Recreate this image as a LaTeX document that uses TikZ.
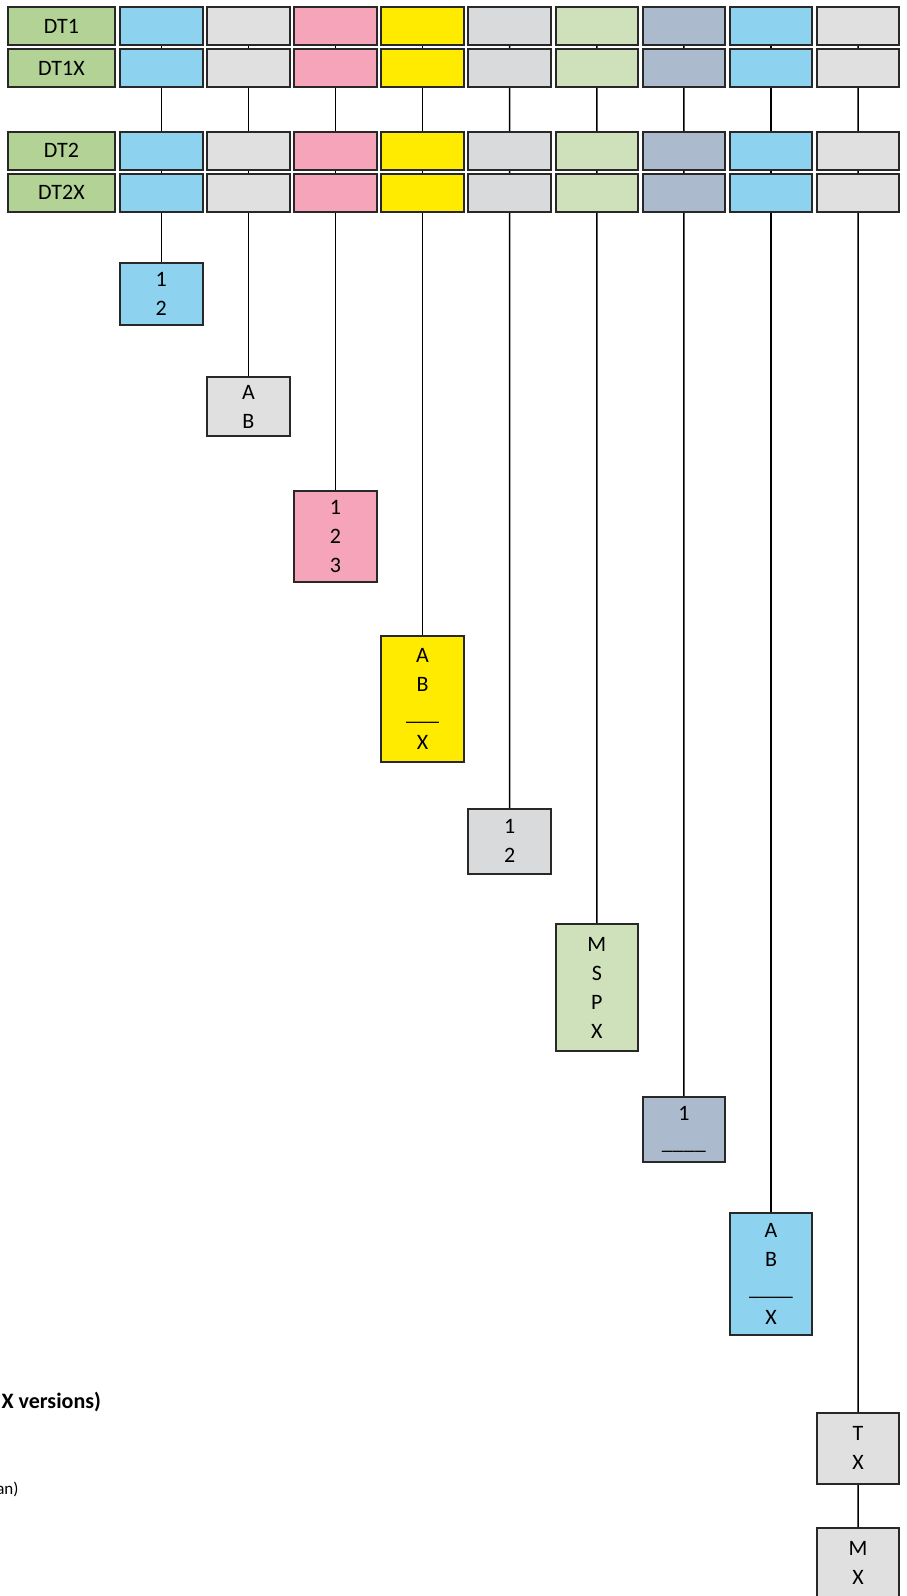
\documentclass[tikz,border=0pt]{standalone}
\usepackage{fontspec}
\setmainfont{Carlito}
\usepackage{xcolor}
\usepackage{tikz}
\usetikzlibrary{backgrounds}
\tikzset{every picture/.style={line width=0.75pt}}
\definecolor{edge}{RGB}{40,40,40}
\definecolor{lblgreen}{RGB}{179,211,150}
\definecolor{cblue}{RGB}{141,211,240}
\definecolor{cgray}{RGB}{224,224,224}
\definecolor{cgrayb}{RGB}{217,218,220}
\definecolor{cpink}{RGB}{245,164,186}
\definecolor{cyellow}{RGB}{255,235,0}
\definecolor{cgreen}{RGB}{206,225,187}
\definecolor{cslate}{RGB}{171,186,204}

\begin{document}
\begin{tikzpicture}[x=0.5pt,y=0.5pt,yscale=-1,xscale=1,
    cell/.style={draw=edge,line width=1pt,inner sep=0pt,minimum width=41.3pt,minimum height=19pt,align=center,font=\fontsize{11}{14.5}\selectfont},
    lbl/.style={cell,fill=lblgreen,minimum width=53.5pt},
    link/.style={draw=black,line width=0.75pt}]
    \useasboundingbox (0,0) rectangle (906,1596);
    \node [lbl] (dt1) at (61.5,26.2) {DT1};
    \node [lbl] (dt1x) at (61.5,68.3) {DT1X};
    \node [lbl] (dt2) at (61.5,150.5) {DT2};
    \node [lbl] (dt2x) at (61.5,192.5) {DT2X};
    \foreach \c/\col in {1/cblue,2/cgray,3/cpink,4/cyellow,5/cgrayb,6/cgreen,7/cslate,8/cblue,9/cgray} {
        \pgfmathsetmacro\xc{161.3+87.1*(\c-1)}
        \node [cell,fill=\col] (a\c) at (\xc,26.2) {};
        \node [cell,fill=\col] (b\c) at (\xc,68.3) {};
        \node [cell,fill=\col] (c\c) at (\xc,150.5) {};
        \node [cell,fill=\col] (d\c) at (\xc,192.5) {};
    }
    \node [cell,fill=cblue,minimum height=31.3pt] (e1) at (161.3,294) {1\\2};
    \node [cell,fill=cgray,minimum height=29.5pt] (e2) at (248.4,406.5) {A\\B};
    \node [cell,fill=cpink,minimum height=45.5pt] (e3) at (335.5,536.5) {1\\2\\3};
    \node [cell,fill=cyellow,minimum height=63pt] (e4) at (422.6,699) {A\\B\\\_\_\_\\X};
    \node [cell,fill=cgrayb,minimum height=32.7pt] (e5) at (509.7,841.3) {1\\2};
    \node [cell,fill=cgreen,minimum height=63.7pt] (e6) at (596.8,987.7) {M\\S\\P\\X};
    \node [cell,fill=cslate,minimum height=32.1pt] (e7) at (683.9,1129.4) {1\\\_\_\_\_};
    \node [cell,fill=cblue,minimum height=61.2pt] (e8) at (771,1273.9) {A\\B\\\_\_\_\_\\X};
    \node [cell,fill=cgray,minimum height=35.7pt] (e9) at (858.1,1448.4) {T\\X};
    \node [cell,fill=cgray,minimum height=35.7pt] (f9) at (858.1,1563.3) {M\\X};
    \begin{scope}[on background layer]
        \foreach \c in {1,...,8}
            \draw [link] (a\c.center) -- (e\c.center);
        \draw [link] (a9.center) -- (e9.center) -- (f9.center);
    \end{scope}
    \node [anchor=base east,inner sep=0pt,font=\bfseries\fontsize{11}{13}\selectfont] (note1) at (101.7,1408.3) {X versions)};
    \node [anchor=base east,inner sep=0pt,font=\fontsize{8.5}{10}\selectfont] (note2) at (19.3,1494) {an)};
\end{tikzpicture}
\end{document}
